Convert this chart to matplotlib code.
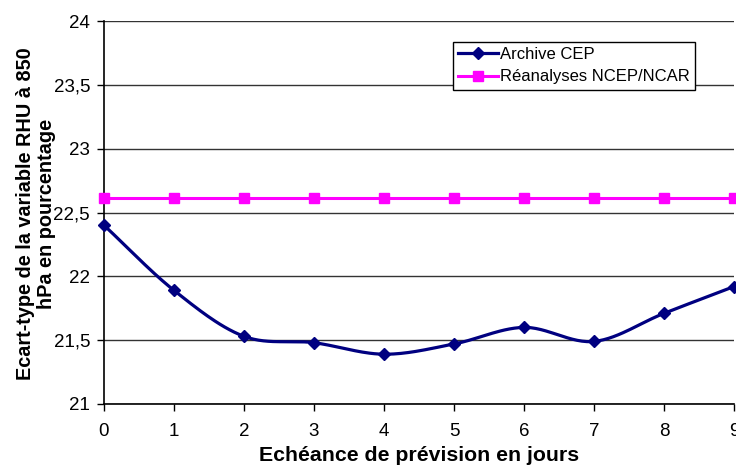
import numpy as np
import matplotlib.pyplot as plt
from matplotlib.ticker import FuncFormatter

plt.rcParams['font.family'] = ['Liberation Sans', 'DejaVu Sans']

# data
jours = [0, 1, 2, 3, 4, 5, 6, 7, 8, 9]
archive_cep = [22.40, 21.89, 21.53, 21.48, 21.39, 21.47, 21.60, 21.49, 21.71, 21.92]
ncep_ncar = [22.61, 22.61, 22.61, 22.61, 22.61, 22.61, 22.61, 22.61, 22.61, 22.61]


def smooth(x, y, n=30):
    # Catmull-Rom style curve, like Excel's smoothed lines
    x = np.asarray(x, float)
    y = np.asarray(y, float)
    px = np.concatenate([[2 * x[0] - x[1]], x, [2 * x[-1] - x[-2]]])
    py = np.concatenate([[2 * y[0] - y[1]], y, [2 * y[-1] - y[-2]]])
    xs, ys = [], []
    t = np.linspace(0, 1, n)
    for i in range(1, len(px) - 2):
        for p, out in ((px, xs), (py, ys)):
            p0, p1, p2, p3 = p[i - 1], p[i], p[i + 1], p[i + 2]
            b1 = p1 + (p2 - p0) / 6
            b2 = p2 - (p3 - p1) / 6
            out.extend((1 - t) ** 3 * p1 + 3 * (1 - t) ** 2 * t * b1
                       + 3 * (1 - t) * t ** 2 * b2 + t ** 3 * p2)
    return np.array(xs), np.array(ys)


fig = plt.figure(figsize=(7.36, 4.66), dpi=100)
ax = fig.add_axes([104 / 736, 1 - 404 / 466, 630 / 736, 383 / 466])

navy = '#000080'
pink = '#FF00FF'

sx, sy = smooth(jours, archive_cep)
ax.plot(sx, sy, color=navy, lw=2.3, clip_on=False, zorder=3)
ax.plot(jours, archive_cep, ls='none', marker='D', ms=6.5, color=navy,
        clip_on=False, zorder=4)
ax.plot([], [], color=navy, lw=2.3, marker='D', ms=6.5, label='Archive CEP')

ax.plot(jours, ncep_ncar, color=pink, lw=2.2, marker='s', ms=7.5,
        clip_on=False, zorder=3, label='Réanalyses NCEP/NCAR')

ax.set_xlim(0, 9)
ax.set_ylim(21, 24)
ax.set_xticks(jours)
ax.set_yticks([21, 21.5, 22, 22.5, 23, 23.5, 24])
ax.yaxis.set_major_formatter(FuncFormatter(lambda v, p: f'{v:g}'.replace('.', ',')))
ax.tick_params(labelsize=13.5, length=5, width=1, direction='out', colors='black')
ax.tick_params(axis='x', pad=9)
ax.tick_params(axis='y', pad=5)
ax.grid(axis='y', color='#333333', lw=1)
ax.set_axisbelow(True)

for s in ['top', 'right']:
    ax.spines[s].set_visible(False)
for s in ['left', 'bottom']:
    ax.spines[s].set_linewidth(1.2)

ax.set_xlabel('Echéance de prévision en jours', fontsize=15.3,
              fontweight='bold', labelpad=4)
ax.set_ylabel('Ecart-type de la variable RHU à 850\nhPa en pourcentage',
              fontsize=14.3, fontweight='bold', linespacing=1.12)
ax.yaxis.set_label_coords(-0.076, 0.497)

leg = ax.legend(loc='upper left', bbox_to_anchor=(349 / 630, 1 - 21 / 383),
                fontsize=12, frameon=True, fancybox=False, edgecolor='black',
                framealpha=1, borderpad=0.3, handlelength=2.4,
                handletextpad=0.15, labelspacing=0.45, borderaxespad=0)
leg.get_frame().set_linewidth(1)

fig.savefig('out.png', dpi=100)
